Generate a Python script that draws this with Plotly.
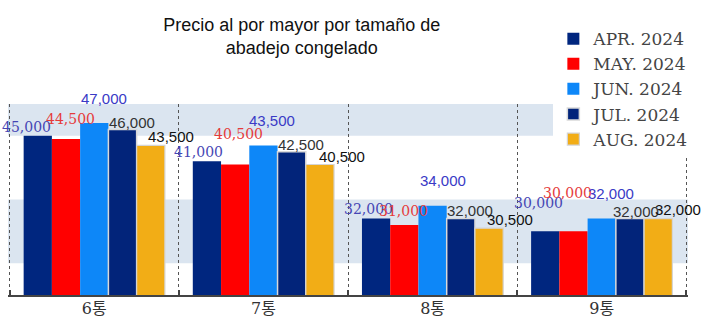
import plotly.graph_objects as go

categories = ["6통", "7통", "8통", "9통"]
series_names = ["APR. 2024", "MAY. 2024", "JUN. 2024", "JUL. 2024", "AUG. 2024"]
apr = [45000, 41000, 32000, 30000]
may = [44500, 40500, 31000, 30000]
jun = [47000, 43500, 34000, 32000]
jul = [46000, 42500, 32000, 32000]
aug = [43500, 40500, 30500, 32000]
values = [apr, may, jun, jul, aug]

# styles
bar_colors = ["#00267f", "#ff0000", "#0d87f8", "#02247a", "#f2ad16"]
bar_lines = [("#00267f", 0), ("#ff0000", 0), ("#0d87f8", 0), ("#d9d9d9", 1.5), ("#d4d4d4", 1.2)]
label_colors = ["#4646b4", "#e53b3b", "#3a3ac6", "#333333", "#111111"]
label_fonts = [("DejaVu Serif", 14), ("DejaVu Serif", 14), ("Liberation Sans", 15),
               ("Liberation Sans", 15), ("Liberation Sans", 15)]
label_dx = [[-11, -8, -8, -7], [4, 3, -1, -6], [10, 9, 10, 9], [9, 9, 9, 6], [20, 22, 21, 20]]
label_dy = [[9, 9, 10, 28], [20, 30, 14, 38], [25, 25, 25, 25], [7, 7, 8, 7], [9, 8, 9, 9]]
bands = [(25000, 35000), (45000, 50000)]
BARGAP = 0.165
EDGE = 0.01  # small range padding so the boundary grid lines at both ends are drawn

fig = go.Figure()
for i, name in enumerate(series_names):
    fig.add_trace(go.Bar(
        x=categories, y=values[i], name=name,
        marker=dict(color=bar_colors[i],
                    line=dict(color=bar_lines[i][0], width=bar_lines[i][1])),
    ))

n = len(series_names)
bw = (1 - BARGAP) / n
annotations = []
for i in range(n):
    for g, v in enumerate(values[i]):
        xc = g - (1 - BARGAP) / 2 + bw * (i + 0.5)
        annotations.append(dict(
            x=xc, y=v, xref="x", yref="y", text=f"{v:,}", showarrow=False,
            xanchor="center", yanchor="middle",
            xshift=label_dx[i][g], yshift=label_dy[i][g],
            font=dict(family=label_fonts[i][0], size=label_fonts[i][1], color=label_colors[i]),
        ))

shapes = [dict(type="rect", xref="paper", yref="y", x0=0, x1=1, y0=b0, y1=b1,
               fillcolor="#dbe5f0", line=dict(width=0), layer="below") for b0, b1 in bands]

fig.update_layout(
    width=706, height=323,
    margin=dict(l=8, r=18, t=104, b=28, autoexpand=False),
    paper_bgcolor="white", plot_bgcolor="white",
    barmode="group", bargap=BARGAP, bargroupgap=0,
    title=dict(text="Precio al por mayor por tamaño de<br>abadejo congelado",
               x=0.432, xref="paper", xanchor="center", y=0.905, yref="container", yanchor="top",
               font=dict(family="Liberation Sans, Arial, sans-serif", size=18, color="#111")),
    legend=dict(x=0.802, xanchor="left", y=1.434, yanchor="top", bgcolor="white",
                font=dict(family="DejaVu Serif", size=17, color="#444"),
                tracegroupgap=0),
    xaxis=dict(type="category", range=[-0.5 - EDGE, len(categories) - 0.5 + EDGE],
               tickson="boundaries", ticks="inside", ticklen=5,
               tickcolor="#444", tickwidth=1.5, showline=True, linecolor="#444", linewidth=2,
               showgrid=True, gridcolor="#555", griddash="dot", gridwidth=1, automargin=False,
               ticklabelstandoff=-2,
               tickfont=dict(family="DejaVu Serif, Noto Sans CJK KR", size=16, color="#333")),
    yaxis=dict(range=[20000, 50000], showticklabels=False, showgrid=False, zeroline=False,
               showline=False, ticks="", automargin=False),
    annotations=annotations, shapes=shapes,
    showlegend=True,
)

fig.write_html("out.html")
